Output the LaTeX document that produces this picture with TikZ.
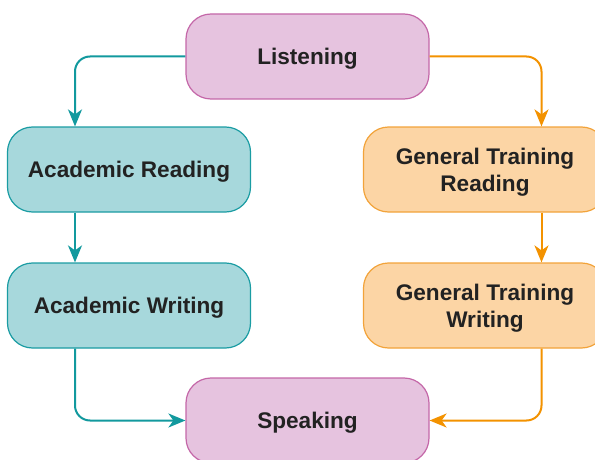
\documentclass[tikz,border=0pt]{standalone}
\usepackage{fontspec}
\setmainfont{Liberation Sans}
\usetikzlibrary{arrows.meta,calc}
\definecolor{pinkfill}{HTML}{E6C3DF}
\definecolor{pinkline}{HTML}{C467A8}
\definecolor{tealfill}{HTML}{A7D8DC}
\definecolor{tealline}{HTML}{1A9CA3}
\definecolor{tealarrow}{HTML}{12999E}
\definecolor{orfill}{HTML}{FCD5A5}
\definecolor{orline}{HTML}{F2A33A}
\definecolor{orarrow}{HTML}{F39200}
\definecolor{txt}{HTML}{222222}
\begin{document}
\begin{tikzpicture}[x=1pt,y=-1pt,
  box/.style={rounded corners=25pt, minimum width=243pt, minimum height=85pt,
    line width=1.2pt, align=center, text=txt, inner sep=0pt, text depth=0pt,
    font=\fontsize{22.6}{27}\selectfont\bfseries},
  pinkbox/.style={box, draw=pinkline, fill=pinkfill},
  tealbox/.style={box, draw=tealline, fill=tealfill},
  orbox/.style={box, draw=orline, fill=orfill},
  conn/.style={line width=2pt, rounded corners=15pt,
    -{Stealth[length=17pt,width=14pt,inset=5pt]}},
  tealconn/.style={conn, draw=tealarrow, color=tealarrow},
  orconn/.style={conn, draw=orarrow, color=orarrow}]
\useasboundingbox (0,0) rectangle (595,460);
\node[pinkbox] (L) at (307.5,56.5) {Listening};
\node[tealbox] (AR) at (129,169.5) {Academic Reading};
\node[tealbox] (AW) at (129,305.5) {Academic Writing};
\node[orbox] (GR) at (485,169.5) {General Training\\Reading};
\node[orbox] (GW) at (485,305.5) {General Training\\Writing};
\node[pinkbox] (S) at (307.5,420.5) {Speaking};
\coordinate (cl) at (75,0);
\coordinate (cr) at (541.5,0);
\draw[tealconn] (L.west) -| (cl |- AR.north);
\draw[tealconn] (cl |- AR.south) -- (cl |- AW.north);
\draw[tealconn] (cl |- AW.south) |- (S.west);
\draw[orconn] (L.east) -| (cr |- GR.north);
\draw[orconn] (cr |- GR.south) -- (cr |- GW.north);
\draw[orconn] (cr |- GW.south) |- (S.east);
\end{tikzpicture}
\end{document}
